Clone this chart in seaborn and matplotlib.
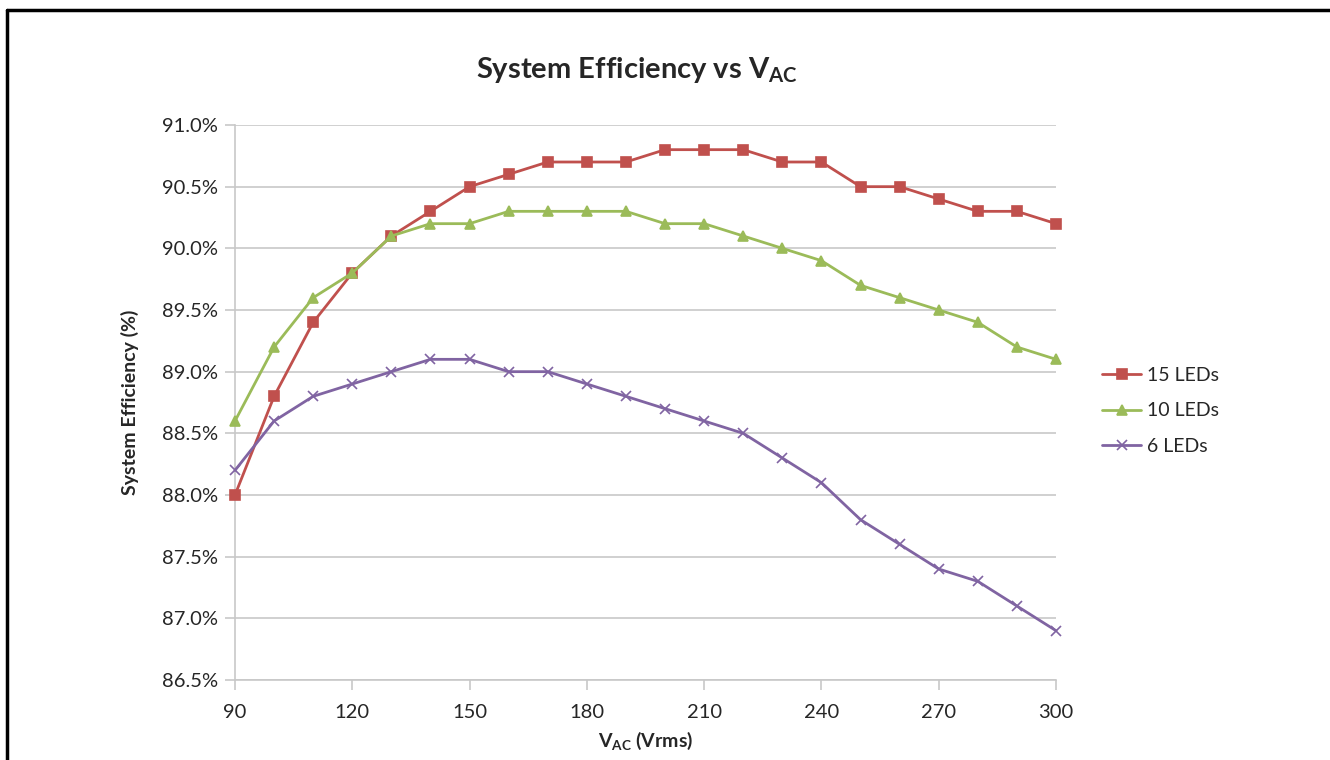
import pandas as pd
import matplotlib.pyplot as plt
import seaborn as sns
from matplotlib.lines import Line2D
from matplotlib.ticker import PercentFormatter

sns.set_theme(style="white")
plt.rcParams['font.family'] = ['Lato', 'DejaVu Sans']
plt.rcParams['mathtext.fontset'] = 'custom'
plt.rcParams['mathtext.rm'] = 'Lato'
plt.rcParams['mathtext.bf'] = 'Lato:bold'

# --- dados ---
vac = [90, 100, 110, 120, 130, 140, 150, 160, 170, 180, 190,
       200, 210, 220, 230, 240, 250, 260, 270, 280, 290, 300]
ef_15 = [88.0, 88.8, 89.4, 89.8, 90.1, 90.3, 90.5, 90.6, 90.7, 90.7, 90.7,
         90.8, 90.8, 90.8, 90.7, 90.7, 90.5, 90.5, 90.4, 90.3, 90.3, 90.2]
ef_10 = [88.6, 89.2, 89.6, 89.8, 90.1, 90.2, 90.2, 90.3, 90.3, 90.3, 90.3,
         90.2, 90.2, 90.1, 90.0, 89.9, 89.7, 89.6, 89.5, 89.4, 89.2, 89.1]
ef_6 = [88.2, 88.6, 88.8, 88.9, 89.0, 89.1, 89.1, 89.0, 89.0, 88.9, 88.8,
        88.7, 88.6, 88.5, 88.3, 88.1, 87.8, 87.6, 87.4, 87.3, 87.1, 86.9]
series = ['15 LEDs', '10 LEDs', '6 LEDs']
cores = {'15 LEDs': '#C0504D', '10 LEDs': '#9BBB59', '6 LEDs': '#8064A2'}
marcadores = {'15 LEDs': 's', '10 LEDs': '^', '6 LEDs': 'x'}

df = pd.concat([
    pd.DataFrame({'vac': vac, 'ef': ef_15, 'serie': '15 LEDs'}),
    pd.DataFrame({'vac': vac, 'ef': ef_10, 'serie': '10 LEDs'}),
    pd.DataFrame({'vac': vac, 'ef': ef_6, 'serie': '6 LEDs'}),
], ignore_index=True)

fig = plt.figure(figsize=(13.3, 7.6), dpi=100)
ax = fig.add_axes([235 / 1330, 1 - 680 / 760, (1056 - 235) / 1330, (680 - 125) / 760])

for s in series:
    sns.lineplot(data=df[df['serie'] == s], x='vac', y='ef', color=cores[s],
                 marker=marcadores[s], linewidth=2, markersize=7.5,
                 markeredgewidth=1.2, markeredgecolor=cores[s], label=s,
                 clip_on=False, zorder=3, ax=ax)

ax.set_xlim(90, 300)
ax.set_ylim(86.5, 91.0)
ax.set_xticks(range(90, 301, 30))
ax.set_yticks([86.5 + 0.5 * i for i in range(10)])
ax.yaxis.set_major_formatter(PercentFormatter(decimals=1))
ax.grid(axis='y', color='#C8C8C8', linewidth=1.2)
ax.grid(axis='x', visible=False)
for lado in ['top', 'right']:
    ax.spines[lado].set_visible(False)
for lado in ['left', 'bottom']:
    ax.spines[lado].set_color('#C8C8C8')
    ax.spines[lado].set_linewidth(1.2)
ax.tick_params(axis='both', direction='out', length=7, color='#C8C8C8', width=1.2,
               labelsize=14.5, labelcolor='#262626', bottom=True, left=True)
ax.tick_params(axis='x', pad=10)
ax.tick_params(axis='y', pad=5)

ax.set_xlabel(r'V$_{\mathbf{AC}}$ (Vrms)', fontsize=14, fontweight='bold', labelpad=6)
ax.set_ylabel('System Efficiency (%)', fontsize=14, fontweight='bold', labelpad=17)
fig.text(637 / 1330, 1 - 70 / 760, r'System Efficiency vs V$_{\mathbf{AC}}$',
         ha='center', va='center', fontsize=21, fontweight='bold')

leg = ax.legend(loc='center left', bbox_to_anchor=(1.035, 0.485), frameon=False,
                fontsize=14, handlelength=2.0, handletextpad=0.3, labelspacing=0.95)

# moldura
fig.add_artist(Line2D([7 / 1330, 7 / 1330], [0, 1 - 10 / 760], color='black', linewidth=2.5,
                      transform=fig.transFigure))
fig.add_artist(Line2D([7 / 1330, 1], [1 - 10 / 760, 1 - 10 / 760], color='black', linewidth=2.5,
                      transform=fig.transFigure))

fig.savefig('out.png', dpi=100)
